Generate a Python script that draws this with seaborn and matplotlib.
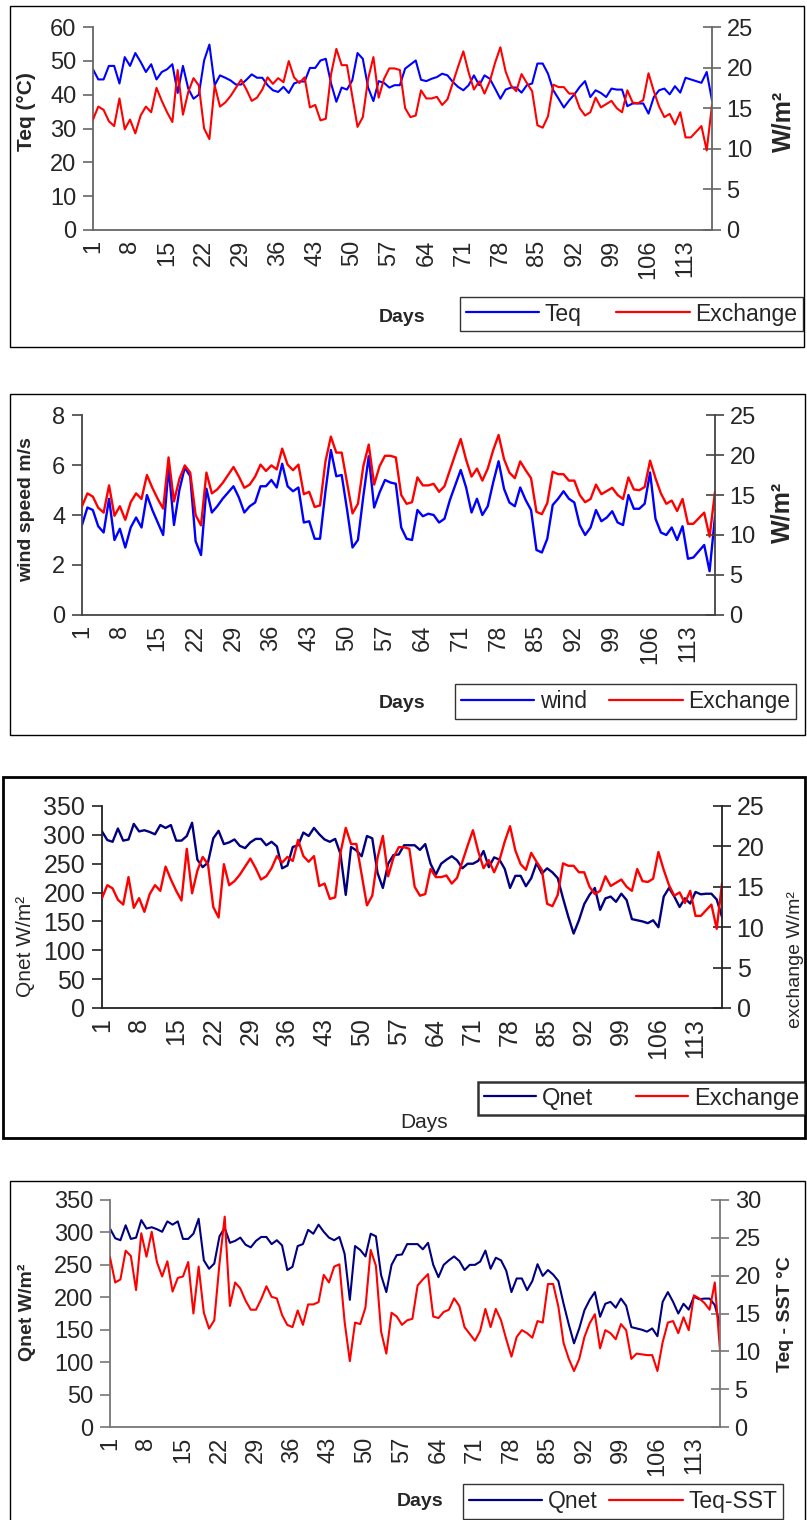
import numpy as np
import matplotlib
matplotlib.use("Agg")
import matplotlib.pyplot as plt
import seaborn as sns
from matplotlib.patches import Rectangle
from matplotlib.lines import Line2D

# ---------------- data ----------------
days = np.arange(1, 119)
tick_days = list(range(1, 114, 7))

exchange = [13.6, 15.2, 14.8, 13.4, 12.8, 16.2, 12.4, 13.6, 11.9, 14.1,
            15.2, 14.5, 17.5, 15.9, 14.5, 13.3, 19.7, 14.2, 17.0, 18.7,
            17.8, 12.5, 11.2, 17.8, 15.2, 15.7, 16.5, 17.5, 18.5, 17.3,
            15.9, 16.3, 17.3, 18.8, 18.0, 18.7, 18.2, 20.8, 18.8, 18.1,
            18.8, 15.1, 15.4, 13.5, 13.7, 19.2, 22.3, 20.3, 20.3, 16.5,
            12.7, 13.9, 18.6, 21.3, 16.3, 18.6, 19.9, 19.9, 19.7, 15.0,
            13.9, 14.1, 17.2, 16.2, 16.2, 16.4, 15.4, 16.1, 18.1, 20.1,
            22.0, 19.4, 17.3, 18.3, 16.8, 18.3, 20.6, 22.5, 19.5, 17.8,
            17.1, 19.2, 18.1, 17.1, 12.9, 12.6, 14.0, 17.9, 17.6, 17.6,
            16.8, 16.8, 15.0, 14.1, 14.5, 16.3, 15.1, 15.5, 15.9, 15.0,
            14.5, 17.2, 15.7, 15.6, 16.0, 19.3, 17.1, 15.2, 13.9, 14.3,
            13.0, 14.5, 11.4, 11.4, 12.1, 12.8, 9.8, 15.4]

wind = [3.6, 4.3, 4.2, 3.55, 3.3, 4.65, 3.0, 3.45, 2.7, 3.5,
        3.9, 3.5, 4.8, 4.2, 3.7, 3.2, 5.9, 3.6, 5.0, 5.9,
        5.55, 2.95, 2.4, 5.05, 4.1, 4.35, 4.65, 4.9, 5.15, 4.7,
        4.1, 4.35, 4.5, 5.15, 5.15, 5.4, 5.1, 6.05, 5.15, 4.95,
        5.1, 3.7, 3.75, 3.05, 3.05, 4.95, 6.6, 5.55, 5.6, 4.2,
        2.7, 3.0, 4.75, 6.35, 4.3, 4.9, 5.4, 5.3, 5.25, 3.5,
        3.05, 3.0, 4.2, 3.95, 4.05, 4.0, 3.7, 3.85, 4.6, 5.2,
        5.8, 5.1, 4.1, 4.65, 4.0, 4.35, 5.3, 6.15, 5.05, 4.5,
        4.35, 5.1, 4.6, 4.2, 2.6, 2.5, 3.05, 4.4, 4.65, 4.95,
        4.65, 4.5, 3.6, 3.2, 3.5, 4.2, 3.75, 3.9, 4.15, 3.7,
        3.6, 4.8, 4.25, 4.25, 4.45, 5.7, 3.85, 3.3, 3.2, 3.5,
        3.0, 3.55, 2.25, 2.3, 2.55, 2.8, 1.75, 3.95]

teq = [47.5, 44.5, 44.5, 48.5, 48.5, 43.3, 51.1, 48.5, 52.3, 49.7,
       46.7, 49.0, 44.5, 46.7, 47.5, 49.0, 40.5, 48.5, 41.8, 38.8,
       40.0, 50.1, 54.8, 42.8, 45.7, 45.0, 44.2, 43.0, 43.0, 44.4,
       46.0, 45.0, 45.0, 42.8, 41.3, 40.8, 42.3, 40.5, 43.3, 43.9,
       43.9, 47.9, 47.9, 50.1, 50.6, 43.3, 37.9, 42.1, 41.5, 44.2,
       52.3, 50.6, 42.1, 38.1, 44.0, 43.5, 42.1, 42.8, 42.8, 47.7,
       48.9, 50.1, 44.4, 44.0, 44.7, 45.2, 46.2, 45.7, 43.8, 42.3,
       41.3, 42.8, 45.7, 42.8, 45.7, 44.7, 41.8, 38.8, 41.5, 42.1,
       42.1, 40.6, 42.8, 43.3, 49.2, 49.2, 46.2, 41.3, 38.8, 36.2,
       38.3, 40.1, 42.3, 44.0, 39.3, 41.3, 40.5, 39.3, 41.8, 41.5,
       41.5, 36.6, 37.4, 37.4, 37.4, 34.4, 39.3, 41.3, 41.8, 40.1,
       42.5, 40.6, 45.0, 44.5, 44.0, 43.5, 46.7, 38.3]

qnet = [306, 291, 288, 311, 290, 292, 319, 306, 308, 305,
        301, 317, 312, 317, 290, 290, 298, 321, 257, 244,
        252, 294, 307, 284, 287, 292, 281, 277, 287, 293,
        293, 282, 288, 280, 242, 247, 279, 282, 304, 298,
        312, 301, 292, 288, 293, 267, 196, 279, 273, 263,
        298, 294, 234, 208, 250, 265, 266, 282, 282, 282,
        274, 284, 250, 231, 250, 257, 263, 256, 242, 250,
        250, 255, 272, 244, 261, 257, 241, 208, 229, 229,
        211, 225, 251, 233, 242, 235, 225, 190, 158, 129,
        152, 180, 196, 208, 170, 190, 193, 184, 198, 187,
        154, 152, 150, 147, 152, 140, 193, 208, 193, 175,
        190, 181, 201, 197, 198, 198, 188, 158]

teq_sst = [22.4, 19.1, 19.5, 23.3, 22.6, 18.1, 25.6, 22.5, 25.8, 21.8,
           19.9, 21.9, 17.9, 19.7, 19.9, 21.8, 15.0, 21.2, 15.1, 13.0,
           14.1, 21.6, 27.8, 16.0, 19.1, 18.3, 16.7, 15.5, 15.5, 16.9,
           18.6, 17.2, 17.0, 14.8, 13.5, 13.2, 15.4, 13.5, 16.2, 16.2,
           16.5, 20.1, 19.1, 21.2, 21.5, 13.9, 8.7, 13.8, 13.6, 15.8,
           23.4, 21.3, 12.6, 9.7, 15.1, 14.6, 13.5, 14.1, 14.3, 18.7,
           19.5, 20.2, 14.6, 14.4, 15.2, 15.5, 17.0, 16.0, 13.2, 12.3,
           11.4, 12.7, 15.6, 13.2, 15.6, 14.1, 11.6, 9.3, 11.9, 12.8,
           12.4, 11.8, 14.0, 13.8, 18.9, 18.9, 15.9, 11.1, 9.0, 7.4,
           9.0, 11.9, 13.7, 14.9, 10.4, 12.8, 12.4, 11.6, 13.6, 12.8,
           9.0, 9.7, 9.6, 9.5, 9.5, 7.4, 11.2, 13.8, 14.0, 12.4,
           14.5, 12.8, 17.4, 17.0, 16.4, 15.5, 19.1, 10.1]

# ---------------- style ----------------
sns.set_style("white")
plt.rcParams['font.family'] = ['Liberation Sans', 'DejaVu Sans']

W, H = 807, 1520
fig = plt.figure(figsize=(W / 100, H / 100), dpi=100)


def fx(x):
    return x / W


def fy(y):
    return 1 - y / H


def add_frame(l, t, r, b, lw=1.0):
    fig.add_artist(Rectangle((fx(l), fy(b)), (r - l) / W, (b - t) / H,
                             transform=fig.transFigure, fill=False,
                             ec='black', lw=lw))


def panel(box, left_y, right_y, lcol, rcol, llim, lticks, rlim, rticks,
          spine_col, tick_fs, xt_fs, lw=1.5):
    l, t, r, b = box
    ax = fig.add_axes([fx(l), fy(b), (r - l) / W, (b - t) / H])
    ax.set_facecolor('none')
    ax2 = ax.twinx()
    sns.lineplot(x=days, y=left_y, ax=ax, color=lcol, linewidth=lw)
    sns.lineplot(x=days, y=right_y, ax=ax2, color=rcol, linewidth=lw)
    ax.set_xlim(1, 118)
    ax.set_ylim(*llim)
    ax.set_yticks(lticks)
    ax2.set_ylim(*rlim)
    ax2.set_yticks(rticks)
    ax.set_xticks(tick_days)
    ax.set_xticklabels([str(d) for d in tick_days], rotation=90,
                       ha='center', va='top')
    for a in (ax, ax2):
        a.set_xlabel('')
        a.set_ylabel('')
        a.grid(False)
        for s in a.spines.values():
            s.set_visible(False)
    ax.spines['left'].set_visible(True)
    ax.spines['bottom'].set_visible(True)
    ax2.spines['right'].set_visible(True)
    for s in (ax.spines['left'], ax.spines['bottom'], ax2.spines['right']):
        s.set_color(spine_col)
        s.set_linewidth(1.3)
    ax.tick_params(axis='y', direction='out', length=7, width=1.2,
                   color=spine_col, labelsize=tick_fs, pad=5, left=True)
    ax.tick_params(axis='x', length=0, labelsize=xt_fs, pad=7, bottom=True)
    ax2.tick_params(axis='y', direction='inout', length=13, width=1.2,
                    color=spine_col, labelsize=tick_fs, pad=4, right=True)
    return ax, ax2


def legend(l, t, r, b, labels, colors, lw=1.0, fs=16.5, hl=3.2, cs=1.6):
    handles = [Line2D([], [], color=c, lw=1.6) for c in colors]
    leg = fig.legend(handles, labels, loc='center',
                     bbox_to_anchor=(fx(l), fy(b), (r - l) / W, (b - t) / H),
                     mode='expand', ncol=2, frameon=True, fancybox=False,
                     edgecolor='black', fontsize=fs, handlelength=hl,
                     handletextpad=0.25, borderpad=0.25, borderaxespad=0,
                     columnspacing=cs)
    leg.get_frame().set_linewidth(lw)
    return leg


BLUE, RED, NAVY = '#0000FF', '#FF0000', '#000080'

# ---------------- panel 1 ----------------
add_frame(10, 6, 804, 347)
panel((93, 27, 712, 230), teq, exchange, BLUE, RED,
      (0, 60), range(0, 61, 10), (0, 25), range(0, 26, 5),
      '#666666', 17, 17)
fig.text(fx(27), fy(112), 'Teq (°C)', rotation=90, ha='center', va='center',
         fontsize=15, fontweight='bold')
fig.text(fx(783), fy(121), 'W/m²', rotation=90, ha='center', va='center',
         fontsize=18, fontweight='bold')
fig.text(fx(402), fy(318), 'Days', ha='center', va='center',
         fontsize=14, fontweight='bold')
legend(460, 295, 803, 333, ['Teq', 'Exchange'], [BLUE, RED])

# ---------------- panel 2 ----------------
add_frame(10, 394, 805, 735)
panel((82, 415, 715, 615), wind, exchange, BLUE, RED,
      (0, 8), range(0, 9, 2), (0, 25), range(0, 26, 5),
      '#444444', 17, 17, lw=1.7)
fig.text(fx(27), fy(510), 'wind speed m/s', rotation=90, ha='center',
         va='center', fontsize=14, fontweight='bold')
fig.text(fx(782), fy(512), 'W/m²', rotation=90, ha='center', va='center',
         fontsize=18, fontweight='bold')
fig.text(fx(402), fy(703), 'Days', ha='center', va='center',
         fontsize=14, fontweight='bold')
legend(455, 683, 796, 720, ['wind', 'Exchange'], [BLUE, RED])

# ---------------- panel 3 ----------------
add_frame(3, 777, 805, 1138, lw=2.0)
panel((102, 806, 722, 1008), qnet, exchange, NAVY, RED,
      (0, 350), range(0, 351, 50), (0, 25), range(0, 26, 5),
      '#222222', 18, 18, lw=1.7)
fig.text(fx(26), fy(946), 'Qnet W/m²', rotation=90, ha='center',
         va='center', fontsize=15)
fig.text(fx(795), fy(960), 'exchange W/m²', rotation=90, ha='center',
         va='center', fontsize=14)
fig.text(fx(424), fy(1122), 'Days', ha='center', va='center', fontsize=15)
legend(478, 1077, 805, 1120, ['Qnet', 'Exchange'], [NAVY, RED], lw=1.8,
       fs=17, hl=2.2, cs=0.9)

# ---------------- panel 4 ----------------
add_frame(10, 1181, 805, 1530)
panel((110, 1200, 720, 1427), qnet, teq_sst, NAVY, RED,
      (0, 350), range(0, 351, 50), (0, 30), range(0, 31, 5),
      '#777777', 17, 17)
fig.text(fx(27), fy(1312), 'Qnet W/m²', rotation=90, ha='center',
         va='center', fontsize=14, fontweight='bold')
fig.text(fx(786), fy(1314), 'Teq - SST °C', rotation=90, ha='center',
         va='center', fontsize=14, fontweight='bold')
fig.text(fx(420), fy(1502), 'Days', ha='center', va='center',
         fontsize=14, fontweight='bold')
legend(463, 1485, 783, 1518, ['Qnet', 'Teq-SST'], [NAVY, RED])

fig.savefig('out.png', dpi=100)
